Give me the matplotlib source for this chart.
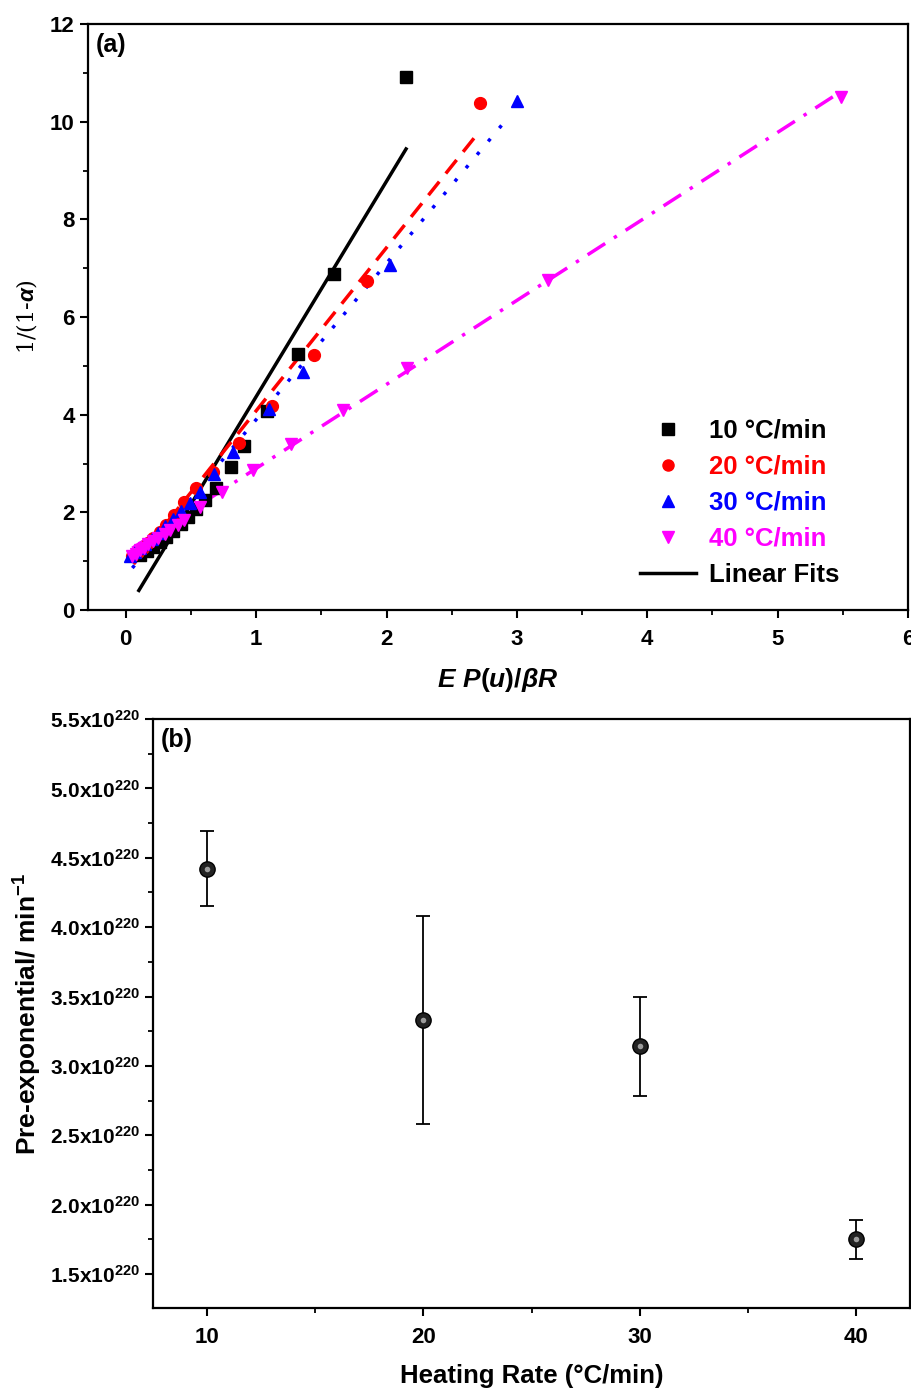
import numpy as np
import matplotlib
matplotlib.use('Agg')
import matplotlib.pyplot as plt
from matplotlib.ticker import MultipleLocator, FuncFormatter
from matplotlib.lines import Line2D

plt.rcParams['font.family'] = ['Liberation Sans', 'DejaVu Sans']
plt.rcParams['font.weight'] = 'bold'
plt.rcParams['axes.labelweight'] = 'bold'
plt.rcParams['mathtext.fontset'] = 'custom'
plt.rcParams['mathtext.rm'] = 'Liberation Sans:bold'
plt.rcParams['mathtext.bf'] = 'Liberation Sans:bold'
plt.rcParams['mathtext.it'] = 'Liberation Sans:bold:italic'

# ---- panel (a) data: E P(u)/beta R vs 1/(1-alpha)
x10 = [0.11, 0.16, 0.21, 0.26, 0.31, 0.36, 0.42, 0.48, 0.54, 0.61, 0.69, 0.81, 0.91, 1.08, 1.32, 1.60, 2.15]
y10 = [1.13, 1.21, 1.30, 1.40, 1.50, 1.62, 1.76, 1.90, 2.07, 2.26, 2.50, 2.93, 3.36, 4.08, 5.25, 6.89, 10.92]
x20 = [0.05, 0.09, 0.13, 0.17, 0.21, 0.26, 0.31, 0.37, 0.45, 0.54, 0.67, 0.87, 1.12, 1.44, 1.85, 2.72]
y20 = [1.10, 1.18, 1.27, 1.37, 1.48, 1.60, 1.75, 1.95, 2.22, 2.50, 2.83, 3.42, 4.17, 5.23, 6.73, 10.39]
x30 = [0.03, 0.07, 0.11, 0.15, 0.20, 0.25, 0.30, 0.36, 0.42, 0.49, 0.57, 0.68, 0.82, 1.10, 1.36, 2.03, 3.00]
y30 = [1.10, 1.18, 1.26, 1.35, 1.46, 1.58, 1.72, 1.86, 2.02, 2.20, 2.42, 2.79, 3.24, 4.12, 4.88, 7.07, 10.43]
x40 = [0.05, 0.08, 0.11, 0.14, 0.17, 0.21, 0.25, 0.30, 0.34, 0.40, 0.45, 0.57, 0.74, 0.975, 1.27, 1.67, 2.16, 3.24, 5.49]
y40 = [1.10, 1.15, 1.22, 1.28, 1.35, 1.42, 1.48, 1.56, 1.64, 1.74, 1.84, 2.11, 2.42, 2.87, 3.40, 4.10, 4.96, 6.76, 10.51]

# linear fits: slope, intercept, x range
fit_slope = [4.41, 3.34, 3.20, 1.72]
fit_icpt = [-0.04, 0.74, 0.70, 1.18]
fit_xmin = [0.10, 0.06, 0.05, 0.05]
fit_xmax = [2.15, 2.72, 2.93, 5.48]

labels_a = ['10 °C/min', '20 °C/min', '30 °C/min', '40 °C/min']
colors = ['black', 'red', 'blue', 'magenta']
markers = ['s', 'o', '^', 'v']
styles = ['-', (0, (5, 3)), (0, (1, 4)), (0, (6, 3, 1, 3))]

# ---- panel (b) data
rate = [10, 20, 30, 40]
pre_exp = [4.42e220, 3.33e220, 3.14e220, 1.75e220]
pre_err = [0.27e220, 0.75e220, 0.355e220, 0.14e220]

fig = plt.figure(figsize=(9.12, 13.88), dpi=100)
ax1 = fig.add_axes([0.0965, 0.5605, 0.899, 0.4222])
ax2 = fig.add_axes([0.1678, 0.0576, 0.830, 0.4244])

xs = [x10, x20, x30, x40]
ys = [y10, y20, y30, y40]
for i in range(4):
    ax1.plot(xs[i], ys[i], ls='none', marker=markers[i], color=colors[i], ms=8.5, zorder=3)
    xf = np.array([fit_xmin[i], fit_xmax[i]])
    ax1.plot(xf, fit_slope[i] * xf + fit_icpt[i], ls=styles[i], color=colors[i], lw=2.5, zorder=2)

ax1.set_xlim(-0.29, 6)
ax1.set_ylim(0, 12)
ax1.xaxis.set_major_locator(MultipleLocator(1))
ax1.xaxis.set_minor_locator(MultipleLocator(0.5))
ax1.yaxis.set_major_locator(MultipleLocator(2))
ax1.yaxis.set_minor_locator(MultipleLocator(1))
ax1.set_xlabel(r'$\mathit{E\ P(u)/\beta R}$', fontsize=19, labelpad=11)
ax1.set_ylabel(r'1/(1-$\alpha$)', fontsize=16, fontweight='normal', family='DejaVu Serif', labelpad=8)
ax1.text(0.01, 0.985, '(a)', transform=ax1.transAxes, fontsize=18, fontweight='bold', va='top')

handles = [Line2D([], [], ls='none', marker=markers[i], color=colors[i], ms=8) for i in range(4)]
handles.append(Line2D([], [], color='black', lw=2.5))
leg = ax1.legend(handles, labels_a + ['Linear Fits'], loc='lower right', frameon=False,
                 fontsize=18.5, handlelength=2.2, handletextpad=0.5, labelspacing=0.47,
                 bbox_to_anchor=(0.945, 0.0))
for t, c in zip(leg.get_texts(), colors + ['black']):
    t.set_color(c)

# panel (b)
ax2.errorbar(rate, pre_exp, yerr=pre_err, fmt='none', ecolor='black', elinewidth=1.3,
             capsize=5, capthick=1.3, zorder=2)
ax2.plot(rate, pre_exp, ls='none', marker='o', ms=11, mfc='#222222', mec='black', mew=1, zorder=3)
ax2.plot(rate, pre_exp, ls='none', marker='o', ms=4, mfc='#bbbbbb', mec='none', alpha=0.8, zorder=4)
ax2.set_xlim(7.5, 42.5)
ax2.set_ylim(1.255e220, 5.5e220)
ax2.xaxis.set_major_locator(MultipleLocator(10))
ax2.xaxis.set_minor_locator(MultipleLocator(5))
ax2.yaxis.set_major_locator(MultipleLocator(0.5e220))
ax2.yaxis.set_minor_locator(MultipleLocator(0.25e220))
ax2.yaxis.set_major_formatter(FuncFormatter(lambda v, p: r'$\mathbf{%.1fx10^{220}}$' % (v / 1e220)))
ax2.set_xlabel('Heating Rate (°C/min)', fontsize=18.5, labelpad=11)
ax2.set_ylabel(r'Pre-exponential/ min$^{-1}$', fontsize=19, labelpad=4)
ax2.text(0.01, 0.985, '(b)', transform=ax2.transAxes, fontsize=18, fontweight='bold', va='top')

for ax in (ax1, ax2):
    for s in ax.spines.values():
        s.set_linewidth(1.6)
    ax.tick_params(which='major', direction='out', length=6, width=1.5, labelsize=15)
    ax.tick_params(which='minor', direction='out', length=3.5, width=1.3)
    ax.tick_params(axis='x', pad=8)
for lab in ax1.get_xticklabels() + ax1.get_yticklabels() + ax2.get_xticklabels():
    lab.set_fontsize(16)

fig.savefig('out.png', dpi=100)
